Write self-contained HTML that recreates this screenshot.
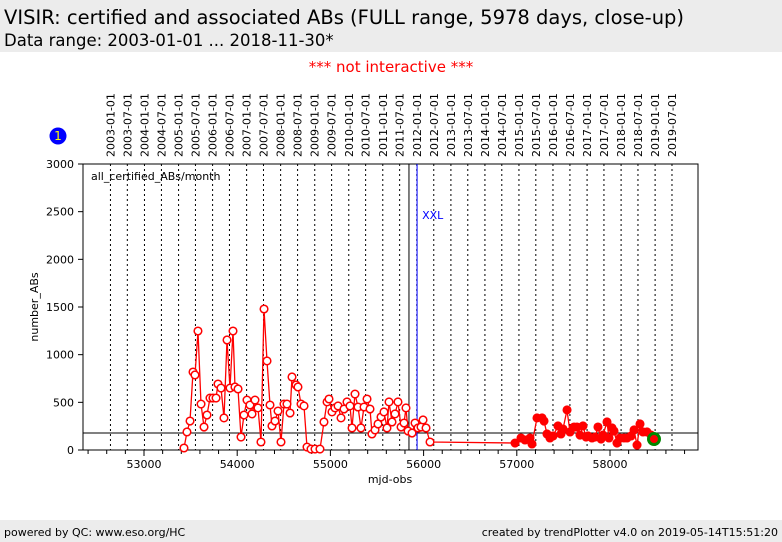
<!DOCTYPE html>
<html><head><meta charset="utf-8"><style>
body{margin:0;width:782px;height:542px;overflow:hidden;background:#fff;font-family:"DejaVu Sans","Liberation Sans",sans-serif;position:relative}
#hdr{position:absolute;left:0;top:0;width:782px;height:52px;background:#ececec}
#t1{position:absolute;left:4px;top:6px;font-size:19.5px;color:#000;white-space:nowrap}
#t2{position:absolute;left:4px;top:31px;font-size:16.5px;color:#000;white-space:nowrap}
#ni{position:absolute;left:0;width:782px;top:58px;text-align:center;color:#f00;font-size:15px}
#ftr{position:absolute;left:0;top:520px;width:782px;height:22px;background:#ececec;font-size:11px}
</style></head><body>
<div id="hdr">
<div id="t1">VISIR: certified and associated ABs (FULL range, 5978 days, close-up)</div>
<div id="t2">Data range: 2003-01-01 ... 2018-11-30*</div></div>
<div id="ni">*** not interactive ***</div>
<svg id="chart" width="782" height="542" style="position:absolute;left:0;top:0" font-family="DejaVu Sans, Liberation Sans, sans-serif"></svg>
<div id="ftr"><span style="position:absolute;left:4px;top:6px">powered by QC: www.eso.org/HC</span><span style="position:absolute;right:4px;top:6px">created by trendPlotter v4.0 on 2019-05-14T15:51:20</span></div>
<script>
const mjd=[53429,53461,53494,53526,53547,53579,53612,53644,53676,53708,53740,53773,53794,53826,53858,53891,53923,53955,53976,54009,54041,54073,54105,54137,54159,54191,54223,54255,54288,54320,54352,54373,54406,54438,54470,54502,54534,54567,54588,54631,54652,54685,54717,54749,54792,54835,54888,54931,54964,54985,55017,55049,55082,55114,55146,55178,55210,55232,55264,55296,55328,55361,55393,55425,55446,55479,55511,55543,55575,55607,55629,55661,55693,55725,55758,55790,55811,55833,55876,55908,55940,55972,55994,56026,56069,56981,57045,57088,57142,57163,57217,57271,57292,57324,57356,57389,57442,57474,57496,57539,57571,57614,57646,57678,57710,57743,57764,57807,57839,57871,57904,57925,57968,57989,58022,58043,58075,58107,58150,58183,58226,58258,58290,58322,58354,58397,58440,58472];
const counts=[21,189,304,818,787,1248,482,241,367,545,545,545,692,650,336,1154,650,1248,661,640,136,367,524,472,378,524,441,84,1479,934,472,252,304,409,84,482,482,388,766,682,661,482,462,31,10,10,10,294,504,535,399,441,462,336,430,504,462,231,587,451,231,451,535,430,168,210,273,346,399,231,504,294,378,504,241,283,441,199,178,283,231,241,315,231,84,73,126,105,126,63,336,336,304,168,126,147,252,168,220,420,189,241,241,157,252,136,147,126,136,241,115,157,294,126,231,199,73,126,126,126,147,210,52,273,189,189,157,115];
const dateLabels=["2003-01-01","2003-07-01","2004-01-01","2004-07-01","2005-01-01","2005-07-01","2006-01-01","2006-07-01","2007-01-01","2007-07-01","2008-01-01","2008-07-01","2009-01-01","2009-07-01","2010-01-01","2010-07-01","2011-01-01","2011-07-01","2012-01-01","2012-07-01","2013-01-01","2013-07-01","2014-01-01","2014-07-01","2015-01-01","2015-07-01","2016-01-01","2016-07-01","2017-01-01","2017-07-01","2018-01-01","2018-07-01","2019-01-01","2019-07-01"];
const dateMjd=[52640,52821,53005,53187,53371,53552,53736,53917,54101,54282,54466,54648,54832,55013,55197,55378,55562,55743,55927,56109,56293,56474,56658,56839,57023,57204,57388,57570,57754,57935,58119,58300,58484,58665];
const xTicks=[53000,54000,55000,56000,57000,58000];
const yTicks=[0,500,1000,1500,2000,2500,3000];
const meanLevel=178;
const markerMjd=[55843];
const xxlMjd=[55930];
const L=83,R=698,T=164,B=450;
const x=v=>144+(v-53000)*0.0932;
const y=v=>B-v*(B-T)/3000;
const svg=document.getElementById('chart');
const NS='http://www.w3.org/2000/svg';
function mk(t,a,txt){const e=document.createElementNS(NS,t);for(const k in a)e.setAttribute(k,a[k]);if(txt!==undefined)e.textContent=txt;svg.appendChild(e);return e;}
dateMjd.forEach((d,i)=>{const px=x(d);
 let g=mk('line',{x1:px,x2:px,y1:T,y2:B,stroke:'#000','stroke-width':1,'stroke-dasharray':'2,3'});
 
 
 let t=mk('text',{x:0,y:0,'font-size':11,transform:`translate(${px+4},157) rotate(-90)`},dateLabels[i]);
 
 
});
let fr=mk('rect',{x:L,y:T,width:R-L,height:B-T,fill:'none',stroke:'#000','stroke-width':1});


for(let v=52400;v<=58800;v+=200){const px=x(v);if(px<L||px>R)continue;const maj=v%1000===0;
 let tk=mk('line',{x1:px,x2:px,y1:B,y2:B+(maj?6:4),stroke:'#000'});
 
 }
xTicks.forEach(v=>{let t=mk('text',{x:x(v),y:468,'font-size':11,'text-anchor':'middle'},String(v));
 
 });
yTicks.forEach(v=>{let tk=mk('line',{x1:L-5,x2:L,y1:y(v),y2:y(v),stroke:'#000'});
 
 
 let t=mk('text',{x:L-9,y:y(v)+4,'font-size':11,'text-anchor':'end'},String(v));
 
 });
let xt=mk('text',{x:390,y:483,'font-size':11,'text-anchor':'middle'},'mjd-obs');


let yt=mk('text',{x:0,y:0,'font-size':11,'text-anchor':'middle',transform:'translate(38,307) rotate(-90)'},'number_ABs');


let pl=mk('text',{x:91,y:180,'font-size':11},'all_certified_ABs/month');


let ml=mk('line',{x1:L,x2:R,y1:y(meanLevel),y2:y(meanLevel),stroke:'#000'});


markerMjd.forEach(d=>{let l=mk('line',{x1:x(d),x2:x(d),y1:T,y2:B,stroke:'#000'});
 
 });
xxlMjd.forEach(d=>{let l=mk('line',{x1:x(d),x2:x(d),y1:T,y2:B,stroke:'#00f'});
 
 
 let t=mk('text',{x:x(d)+5,y:219,'font-size':11,fill:'#00f'},'XXL');
 
 });
const pts=mjd.map((d,i)=>x(d).toFixed(1)+','+y(counts[i]).toFixed(1)).join(' ');
let sl=mk('polyline',{points:pts,fill:'none',stroke:'#f00','stroke-width':1.3});


mjd.forEach((d,i)=>{const late=d>56500;
 let c=mk('circle',{cx:x(d),cy:y(counts[i]),r:3.8,fill:late?'#f00':'#fff',stroke:'#f00','stroke-width':1.5});
 
 });
const li=mjd.length-1;
let lp=mk('circle',{cx:x(mjd[li]),cy:y(counts[li]),r:5.5,fill:'#f00',stroke:'#080','stroke-width':3});


let bc=mk('circle',{cx:58,cy:136,r:8.5,fill:'#00f'});


let bt=mk('text',{x:58,y:140,'font-size':12,fill:'#ff0','text-anchor':'middle'},'1');


</script>
</body></html>
